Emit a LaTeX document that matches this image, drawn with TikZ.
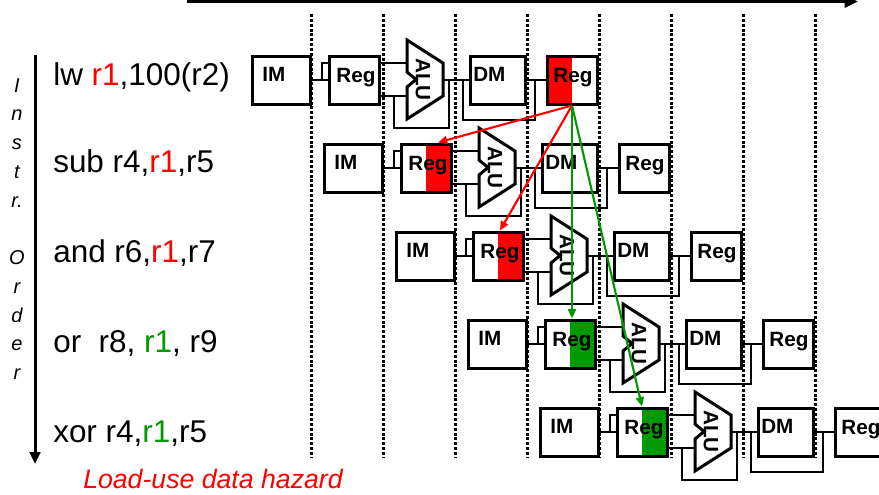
\documentclass[tikz,border=0pt]{standalone}
\usepackage{fontspec}
\setmainfont{Liberation Sans}
\usetikzlibrary{arrows.meta}
\definecolor{hzred}{RGB}{255,0,0}
\definecolor{hzgreen}{RGB}{0,153,0}

\newcommand{\pipestage}[5]{%
\begin{scope}[shift={(#2,#3)}]
  % wires
  \draw[wire] (im#1.east) -- (rf#1.west);
  \draw[wire] (322,80) -- (322,63) -- (329,63);
  \draw[wire] (379,63) -- (407,63);
  \draw[wire] (379,96) -- (407,96);
  \draw[wire] (394,96) -- (394,128) -- (449,128) -- (449,80);
  \draw[wire] (443,80) -- (dm#1.west);
  \draw[wire] (463,80) -- (463,120) -- (535,120) -- (535,80);
  \draw[wire] (dm#1.east) -- (wb#1.west);
  % ALU
  \draw[stagebox,fill=white,line join=miter] (407,40) -- (443,63) -- (443,96) -- (407,119) -- (407,87) -- (416,79.5) -- (407,72) -- cycle;
  \node[lbl,rotate=-90] (alu#1) at (423,79.5) {ALU};
  % labels
  \node[lbl,anchor=north west] at (262,67) {IM};
  \node[lbl,anchor=base] at (356,82) {Reg};
  \node[lbl,anchor=north west] at (473,67) {DM};
  \node[lbl,anchor=base] at (573,82) {Reg};
\end{scope}}

\newcommand{\pipeboxes}[5]{%
\begin{scope}[shift={(#2,#3)}]
  \node[stagebox,minimum width=43.5pt,minimum height=36pt] (im#1) at (281,80) {};
  \node[stagebox,minimum width=37.5pt,minimum height=36pt,#4] (rf#1) at (354,80) {};
  \node[stagebox,minimum width=41.25pt,minimum height=36pt] (dm#1) at (497.5,80) {};
  \node[stagebox,minimum width=37.5pt,minimum height=36pt,#5] (wb#1) at (572,80) {};
\end{scope}}

\begin{document}
\begin{tikzpicture}[x=0.75pt,y=-0.75pt,
  stagebox/.style={draw=black,line width=2.25pt,inner sep=0pt},
  wire/.style={draw=black,line width=2pt},
  lbl/.style={inner sep=0pt,font=\fontsize{15.5}{18}\selectfont\bfseries},
  instr/.style={anchor=base west,inner sep=0pt,font=\fontsize{23.6}{28}\selectfont},
  vlet/.style={anchor=base,inner sep=0pt,font=\fontsize{15}{17}\selectfont\itshape},
  stagesep/.style={line width=2.25pt,dash pattern=on 2.25pt off 1.4pt},
  fwdred/.style={draw=hzred,line width=1.6pt,-{Triangle[length=7pt,width=6pt]}},
  fwdgreen/.style={draw=hzgreen,line width=1.6pt,-{Triangle[length=7pt,width=6pt]}},
  plain/.style={},
  rightred/.style={path picture={\fill[hzred] (path picture bounding box.north) rectangle (path picture bounding box.south east);}},
  rightgreen/.style={path picture={\fill[hzgreen] (path picture bounding box.north) rectangle (path picture bounding box.south east);}},
  leftred/.style={path picture={\fill[hzred] (path picture bounding box.north west) rectangle (path picture bounding box.south);}},
]
\useasboundingbox (0,0) rectangle (879,494);

% time arrow
\coordinate (timeS) at (187,1.5);
\coordinate (timeE) at (858,1.5);
\draw[line width=2.25pt,-{Triangle[length=10pt,width=9pt]}] (timeS) -- (timeE);

% instruction order arrow
\coordinate (ordS) at (35,55);
\coordinate (ordE) at (35,464);
\draw[line width=2.25pt,-{Triangle[length=9pt,width=8pt]}] (ordS) -- (ordE);

% vertical letters
\foreach \t [count=\k from 0] in {I,n,s,t,r.,{},O,r,d,e,r}
  \node[vlet] (v\k) at (17,{92+28.75*\k}) {\t};

% instructions
\node[instr] (i1) at (53,85) {lw {\color{hzred}r1},100(r2)};
\node[instr] (i2) at (53,172) {sub r4,{\color{hzred}r1},r5};
\node[instr] (i3) at (53,262) {and r6,{\color{hzred}r1},r7};
\node[instr] (i4) at (53,352) {or\ \ r8, {\color{hzgreen}r1}, r9};
\node[instr] (i5) at (53,442) {xor r4,{\color{hzgreen}r1},r5};

\node[anchor=base west,inner sep=0pt,text=hzred,font=\fontsize{20}{24}\selectfont\itshape] (hz) at (83,488) {Load-use data hazard};

% pipelines: boxes first (named), then wires and labels
\pipeboxes{1}{0}{0}{plain}{leftred}
\pipeboxes{2}{72}{88}{rightred}{plain}
\pipeboxes{3}{144}{176}{rightred}{plain}
\pipeboxes{4}{216}{264}{rightgreen}{plain}
\pipeboxes{5}{288}{352}{rightgreen}{plain}
\pipestage{1}{0}{0}{}{}
\pipestage{2}{72}{88}{}{}
\pipestage{3}{144}{176}{}{}
\pipestage{4}{216}{264}{}{}
\pipestage{5}{288}{352}{}{}

% stage separators
\foreach \i in {0,...,7}
  \draw[stagesep] ({311+72*\i},14) -- ({311+72*\i},457);

% forwarding arrows
\draw[fwdred] (wb1.south) -- ([xshift=9pt]rf2.north);
\draw[fwdred] (wb1.south) -- ([xshift=1.5pt]rf3.north);
\draw[fwdgreen] (wb1.south) -- (wb1.south |- rf4.north);
\draw[fwdgreen] (wb1.south) -- (rf5.north);
\end{tikzpicture}
\end{document}
